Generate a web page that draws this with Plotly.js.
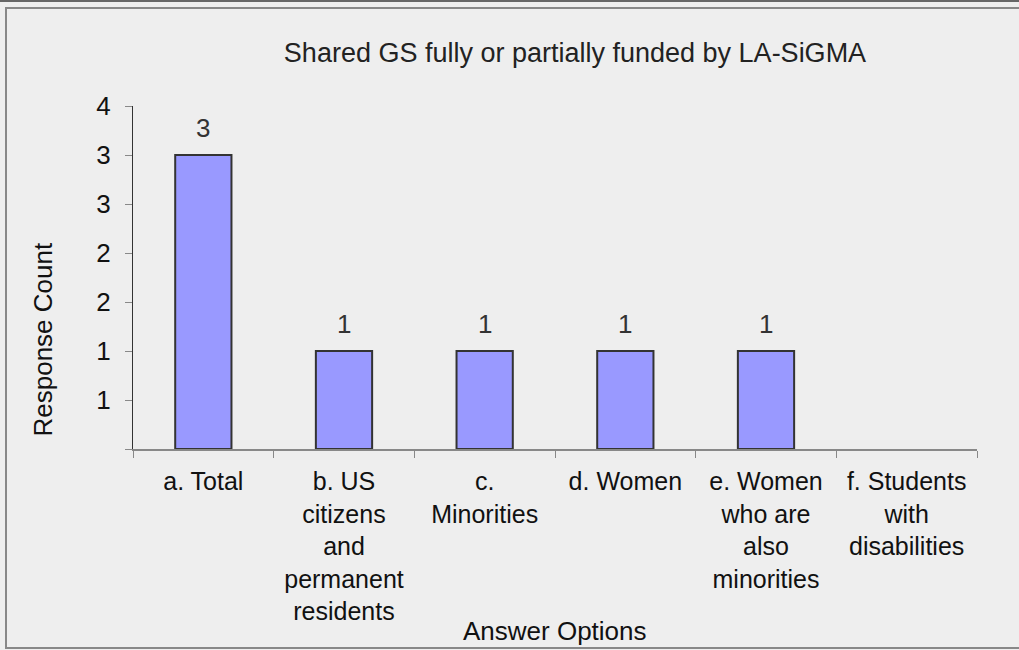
<!DOCTYPE html>
<html>
<head>
<meta charset="utf-8">
<script src="https://cdn.plot.ly/plotly-3.0.1.min.js"></script>
<style>html,body{margin:0;padding:0;background:#eeeeee;}#chart{width:1019px;height:650px;}</style>
</head>
<body>
<div id="chart"></div>
<script>
const categories = [
  "a. Total",
  "b. US<br>citizens<br>and<br>permanent<br>residents",
  "c.<br>Minorities",
  "d. Women",
  "e. Women<br>who are<br>also<br>minorities",
  "f. Students<br>with<br>disabilities"
];
const counts = [3, 1, 1, 1, 1, 0];
const countLabels = ["3", "1", "1", "1", "1", ""];
const yTickVals = [0, 0.5, 1, 1.5, 2, 2.5, 3, 3.5];
const yTickText = ["", "1", "1", "2", "2", "3", "3", "4"];

const FONT = '"Liberation Sans", Arial, sans-serif';
// plot area in pixels: x 133..977, y 106..449
const L = 133, R = 977, T = 106, B = 449;
const px = x => (x - L) / (R - L);
const py = y => (B - y) / (B - T);

const trace = {
  type: 'bar',
  x: categories,
  y: counts,
  width: 0.4,
  marker: {color: '#9999ff', line: {color: '#333333', width: counts.map(v => v > 0 ? 2 : 0)}},
  hoverinfo: 'skip'
};

const labelAnns = categories.map((c, i) => ({
  x: c, y: counts[i], xref: 'x', yref: 'y',
  text: countLabels[i], showarrow: false,
  yanchor: 'bottom', yshift: 10,
  font: {family: FONT, size: 26, color: '#333333'}
})).filter(a => a.text !== "");

const layout = {
  width: 1019, height: 650,
  margin: {l: L, r: 1019 - R, t: T, b: 650 - B, pad: 0},
  paper_bgcolor: '#eeeeee',
  plot_bgcolor: '#eeeeee',
  showlegend: false,
  font: {family: FONT, size: 26, color: '#111111'},
  title: {
    text: 'Shared GS fully or partially funded by LA-SiGMA',
    font: {family: FONT, size: 27, color: '#222222'},
    xref: 'paper', x: px(575), xanchor: 'center',
    yref: 'container', y: 1 - 53 / 650, yanchor: 'middle'
  },
  xaxis: {
    type: 'category',
    showgrid: false, zeroline: false,
    showline: true, linecolor: '#888888', linewidth: 2,
    ticks: 'outside', tickson: 'boundaries', ticklen: 7, tickcolor: '#888888', tickwidth: 1,
    ticklabelstandoff: 9,
    tickfont: {family: FONT, size: 25, color: '#111111'},
    tickangle: 0,
    fixedrange: true
  },
  yaxis: {
    range: [0, 3.5],
    tickvals: yTickVals, ticktext: yTickText,
    showgrid: false, zeroline: false,
    showline: true, linecolor: '#333333', linewidth: 1,
    ticks: 'outside', ticklen: 7, tickcolor: '#888888', tickwidth: 1,
    ticklabelstandoff: 9,
    tickfont: {family: FONT, size: 26, color: '#111111'},
    fixedrange: true
  },
  annotations: labelAnns.concat([
    {text: 'Response Count', textangle: -90, showarrow: false,
     xref: 'paper', yref: 'paper', x: px(42), y: py(339.5),
     xanchor: 'center', yanchor: 'middle',
     font: {family: FONT, size: 26, color: '#111111'}},
    {text: 'Answer Options', showarrow: false,
     xref: 'paper', yref: 'paper', x: px(555), y: py(631),
     xanchor: 'center', yanchor: 'middle',
     font: {family: FONT, size: 26, color: '#111111'}}
  ]),
  shapes: [
    {type: 'rect', xref: 'paper', yref: 'paper',
     x0: px(6), x1: px(1030), y0: py(648), y1: py(8),
     line: {color: '#888888', width: 2}, fillcolor: 'rgba(0,0,0,0)', layer: 'below'},
    {type: 'line', xref: 'paper', yref: 'paper',
     x0: px(-5), x1: px(1030), y0: py(1), y1: py(1),
     line: {color: '#666666', width: 2}}
  ]
};

Plotly.newPlot('chart', [trace], layout, {displayModeBar: false, staticPlot: true});
</script>
</body>
</html>
